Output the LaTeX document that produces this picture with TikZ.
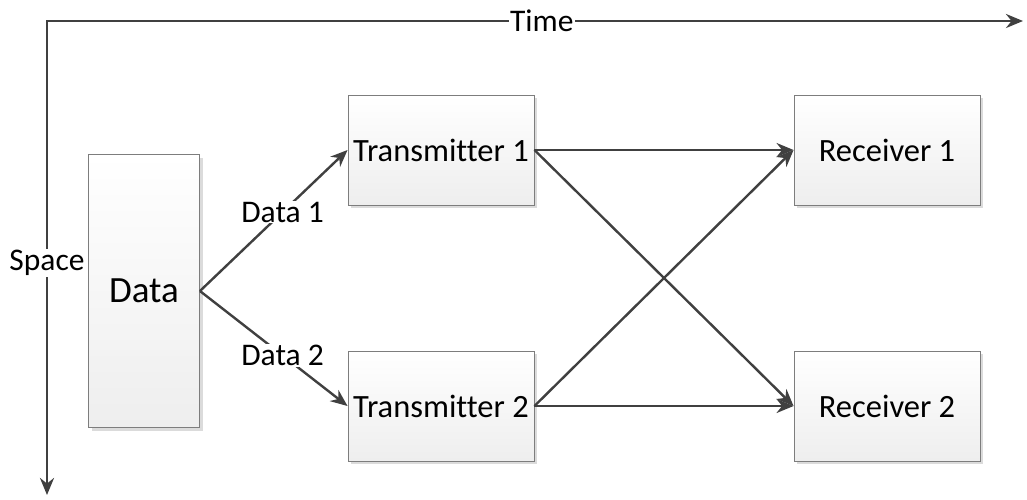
\documentclass[tikz,border=0pt]{standalone}
\usepackage{fontspec}
\setmainfont{Carlito}[Ligatures=NoCommon]
\usetikzlibrary{arrows.meta,shadows}
\definecolor{linegrey}{RGB}{64,64,64}
\definecolor{boxedge}{RGB}{125,125,125}
\definecolor{boxlow}{RGB}{238,238,238}
\begin{document}
\begin{tikzpicture}[x=1pt,y=-1pt,
  block/.style={draw=boxedge, line width=0.9pt, top color=white, bottom color=boxlow,
    drop shadow={shadow xshift=3pt, shadow yshift=-3pt, fill=black!14, opacity=1},
    inner sep=0pt, font=\fontsize{32.5}{38}\selectfont},
  link/.style={draw=linegrey, line width=2.4pt, -{Stealth[length=17pt,width=14pt]}},
  axis/.style={draw=linegrey, line width=2.8pt},
  tag/.style={fill=white, inner sep=1pt, font=\fontsize{31.5}{38}\selectfont}]
\useasboundingbox (0,0) rectangle (1027,499);

% time / space axes
\coordinate (corner) at (47,21);
\coordinate (tend) at (1023,21);
\coordinate (send) at (47,495);
\draw[axis, {Stealth[length=17pt,width=14pt]}-{Stealth[length=17pt,width=14pt]}]
  (send) -- node[tag, pos=0.49] (spacelbl) {Space} (corner)
  -- node[tag, pos=0.507] (timelbl) {Time} (tend);

% blocks
\node[block, minimum width=111pt, minimum height=273pt, font=\fontsize{37}{42}\selectfont]
  (data) at (144,291) {Data};
\node[block, minimum width=186pt, minimum height=110pt] (tx1) at (441,150) {Transmitter 1};
\node[block, minimum width=186pt, minimum height=110pt] (tx2) at (441,406) {Transmitter 2};
\node[block, minimum width=186pt, minimum height=110pt] (rx1) at (887,150) {Receiver 1};
\node[block, minimum width=186pt, minimum height=110pt] (rx2) at (887,406) {Receiver 2};

% data split
\draw[link] (data.east) -- node[tag, pos=0.56] (d1) {Data 1} (tx1.west);
\draw[link] (data.east) -- node[tag, pos=0.56] (d2) {Data 2} (tx2.west);

% transmitter to receiver links
\draw[link] (tx1.east) -- (rx1.west);
\draw[link] (tx1.east) -- (rx2.west);
\draw[link] (tx2.east) -- (rx1.west);
\draw[link] (tx2.east) -- (rx2.west);
\end{tikzpicture}
\end{document}
